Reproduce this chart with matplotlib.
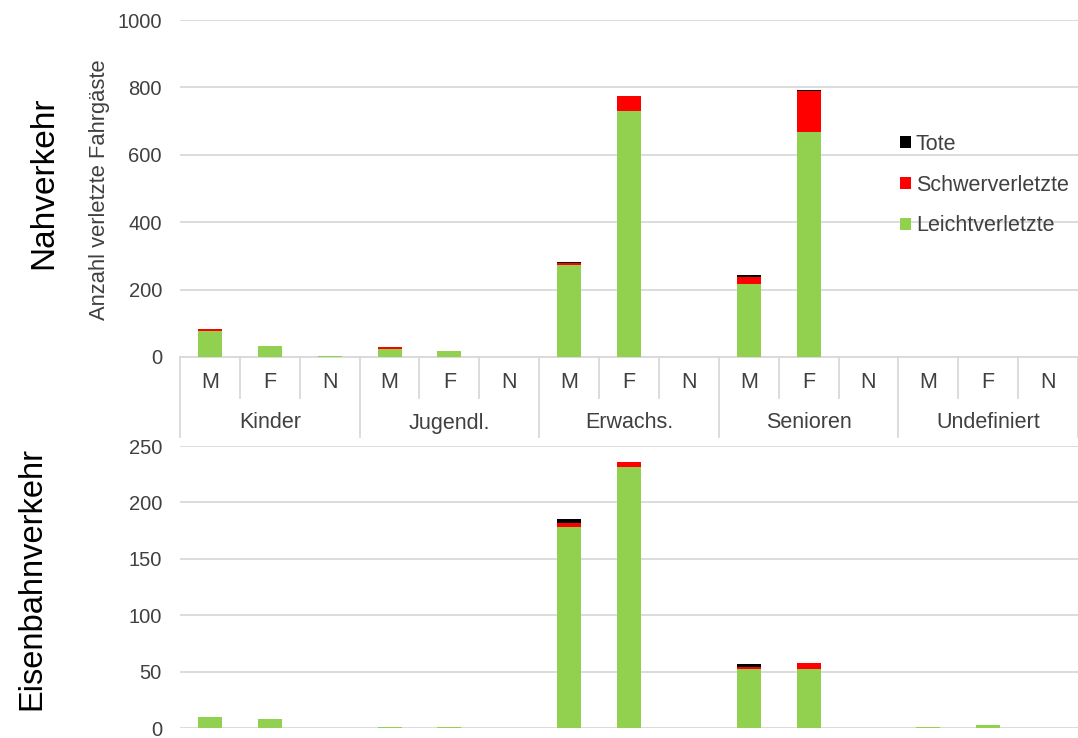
import matplotlib
matplotlib.use("Agg")
import matplotlib.pyplot as plt
from matplotlib.patches import Patch
import matplotlib.transforms as mtransforms

plt.rcParams['font.family'] = ['Liberation Sans', 'DejaVu Sans']

groups = ["Kinder", "Jugendl.", "Erwachs.", "Senioren", "Undefiniert"]
subcats = ["M", "F", "N"]

nah_leicht = [78, 34, 4, 24, 17, 0, 272, 730, 0, 217, 667, 0, 0, 0, 0]
nah_schwer = [4, 0, 0, 5, 0, 0, 6, 45, 0, 21, 121, 0, 0, 0, 0]
nah_tote = [0, 0, 0, 0, 0, 0, 3, 0, 0, 4, 4, 0, 0, 0, 0]

eis_leicht = [10, 8, 0, 1, 1, 0, 178, 231, 0, 52, 52, 0, 1, 3, 0]
eis_schwer = [0, 0, 0, 0, 0, 0, 4, 5, 0, 2, 6, 0, 0, 0, 0]
eis_tote = [0, 0, 0, 0, 0, 0, 3, 0, 0, 3, 0, 0, 0, 0, 0]

series_names = ["Leichtverletzte", "Schwerverletzte", "Tote"]
colors = ["#92D050", "#FF0000", "#000000"]

W, H = 1078, 738
fig = plt.figure(figsize=(W / 100, H / 100), dpi=100)

def fx(px):
    return px / W

def fy(py):
    return 1 - py / H

left, right = 180, 1078
ax1 = fig.add_axes([fx(left), fy(357), (right - left) / W, (357 - 20) / H])
ax2 = fig.add_axes([fx(left), fy(728), (right - left) / W, (728 - 446) / H])

grid_c = "#D9D9D9"
text_c = "#404040"
n = len(subcats) * len(groups)
x = list(range(n))
bw = 0.4

def stack(ax, leicht, schwer, tote):
    bottoms = [0] * n
    for vals, c, name in zip([leicht, schwer, tote], colors, series_names):
        ax.bar(x, vals, bw, bottom=bottoms, color=c, label=name,
               linewidth=0, zorder=3)
        bottoms = [b + v for b, v in zip(bottoms, vals)]

stack(ax1, nah_leicht, nah_schwer, nah_tote)
stack(ax2, eis_leicht, eis_schwer, eis_tote)

for ax, top, step in [(ax1, 1000, 200), (ax2, 250, 50)]:
    ax.set_xlim(-0.5, n - 0.5)
    ax.set_ylim(0, top)
    ax.set_yticks(list(range(0, top + 1, step)))
    ax.yaxis.grid(True, color=grid_c, linewidth=1.3, zorder=0)
    ax.set_axisbelow(True)
    ax.tick_params(axis="y", length=0, pad=13, labelsize=14.5, labelcolor=text_c)
    ax.set_xticks([])
    for s in ax.spines.values():
        s.set_visible(False)

# category table below top axes
trans = mtransforms.blended_transform_factory(ax1.transData, ax1.transAxes)
axh = 357 - 20
def ya(py):
    return (357 - py) / axh

ax1.plot([-0.5, n - 0.5], [0, 0], transform=trans, color=grid_c, lw=1.3, clip_on=False)
for i in range(n + 1):
    xb = i - 0.5
    bottom_px = 437 if i % 3 == 0 else 398
    ax1.plot([xb, xb], [0, ya(bottom_px)], transform=trans, color=grid_c,
             lw=1.3, clip_on=False)
for i in range(n):
    ax1.text(i, ya(383), subcats[i % 3], transform=trans, ha="center", va="center",
             fontsize=15.5, color=text_c)
for g, name in enumerate(groups):
    ax1.text(g * 3 + 1, ya(423), name, transform=trans, ha="center", va="center",
             fontsize=15.5, color=text_c)

fig.text(fx(100), fy(190), "Anzahl verletzte Fahrgäste", rotation=90,
         ha="center", va="center", fontsize=15.8, color=text_c)
fig.text(fx(44), fy(183), "Nahverkehr", rotation=90, ha="center", va="center",
         fontsize=24, color="black")
fig.text(fx(32), fy(579), "Eisenbahnverkehr", rotation=90, ha="center", va="center",
         fontsize=23.5, color="black")

handles = [Patch(facecolor=c, edgecolor="none") for c in colors][::-1]
labels = series_names[::-1]
ax1.legend(handles, labels, loc="upper left", bbox_to_anchor=(fx(889), fy(123)),
           bbox_transform=fig.transFigure, frameon=False, fontsize=15.5,
           handlelength=0.5, handleheight=0.5, handletextpad=0.25,
           labelspacing=0.92, borderpad=0, labelcolor=text_c)

fig.savefig("out.png", dpi=100)
